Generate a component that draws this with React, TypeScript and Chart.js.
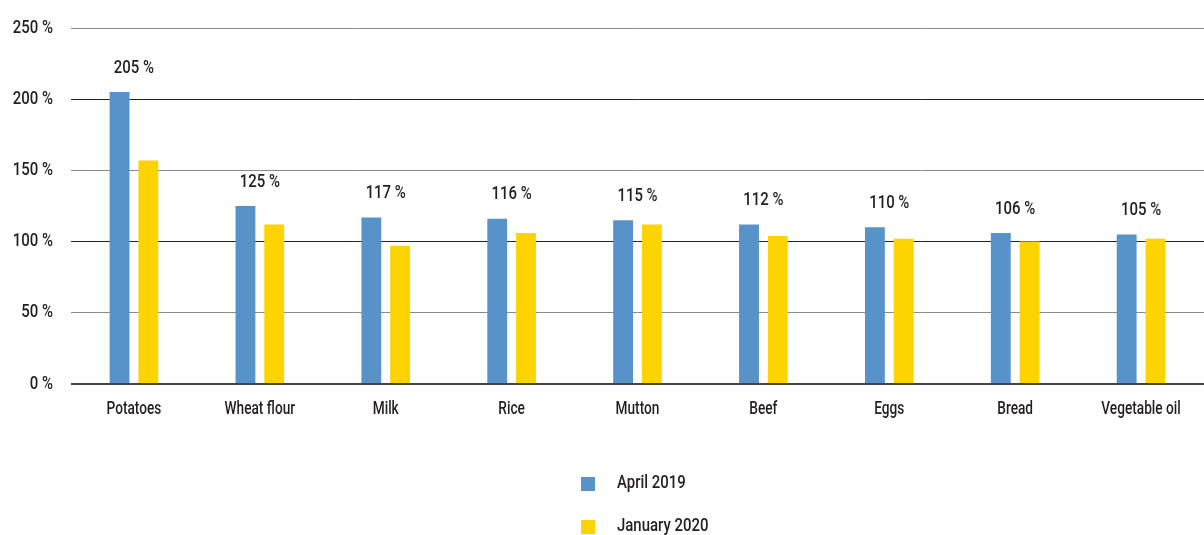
import React, { useEffect, useRef } from "react";
import { Chart, registerables } from "chart.js";

Chart.register(...registerables);

const categories = ["Potatoes", "Wheat flour", "Milk", "Rice", "Mutton", "Beef", "Eggs", "Bread", "Vegetable oil"];
const april2019 = [205, 125, 117, 116, 115, 112, 110, 106, 105];
const january2020 = [157, 112, 97, 106, 112, 104, 102, 100, 102];
const seriesLabels = ["April 2019", "January 2020"];
const yTicks = [0, 50, 100, 150, 200, 250];

const BLUE = "#5793c9";
const YELLOW = "#fed400";
const FONT = "500 18px Roboto, sans-serif";
const SX = 0.83;
const SX_CAT = 0.76;
const TEXT = "#231f20";

function drawText(ctx: any, text: string, x: number, y: number, align: CanvasTextAlign, sx: number = SX) {
  ctx.save();
  ctx.translate(x, y);
  ctx.scale(sx, 1);
  ctx.font = FONT;
  ctx.fillStyle = TEXT;
  ctx.textAlign = align;
  ctx.textBaseline = "middle";
  ctx.fillText(text, 0, 0);
  ctx.restore();
}

const textPlugin = {
  id: "condensedText",
  afterDatasetsDraw(chart: any) {
    const ctx = chart.ctx;
    const xScale = chart.scales.x;
    const yScale = chart.scales.y;
    const area = chart.chartArea;
    yTicks.forEach((v) => {
      drawText(ctx, `${v} %`, area.left - 18, yScale.getPixelForValue(v), "right");
    });
    categories.forEach((c, i) => {
      drawText(ctx, c, xScale.getPixelForValue(i), area.bottom + 25, "center", SX_CAT);
    });
    const meta = chart.getDatasetMeta(0);
    meta.data.forEach((bar: any, i: number) => {
      drawText(ctx, `${april2019[i]} %`, xScale.getPixelForValue(i), bar.y - 24, "center");
    });
    chart.data.datasets.forEach((ds: any, i: number) => {
      const y = 484 + i * 43;
      ctx.fillStyle = ds.backgroundColor;
      ctx.fillRect(581, y - 7, 14, 14);
      drawText(ctx, ds.label, 617, y - 1, "left");
    });
  },
};

export default function App() {
  const ref = useRef<HTMLCanvasElement>(null);
  useEffect(() => {
    document.body.style.margin = "0";
    const chart = new Chart(ref.current!, {
      type: "bar",
      data: {
        labels: categories,
        datasets: [
          { label: seriesLabels[0], data: april2019, backgroundColor: BLUE, categoryPercentage: 0.457, barPercentage: 0.69 },
          { label: seriesLabels[1], data: january2020, backgroundColor: YELLOW, categoryPercentage: 0.457, barPercentage: 0.69 },
        ],
      },
      options: {
        animation: false,
        responsive: false,
        maintainAspectRatio: false,
        layout: { padding: { top: 28, left: 71, right: -9, bottom: 143 } },
        plugins: { legend: { display: false }, tooltip: { enabled: false } },
        scales: {
          x: {
            grid: { display: false },
            border: { display: false },
            ticks: { display: false },
          },
          y: {
            min: 0,
            max: 250,
            afterBuildTicks(axis: any) {
              axis.ticks = yTicks.map((v) => ({ value: v }));
            },
            border: { display: false },
            grid: {
              drawTicks: false,
              color: (c: any) => (c.tick.value === 0 ? "#444" : c.tick.value % 100 === 0 ? "#222" : "#8a8a8a"),
              lineWidth: (c: any) => (c.tick.value === 0 ? 2 : 1),
            },
            ticks: { display: false },
          },
        },
      },
      plugins: [textPlugin],
    });
    return () => chart.destroy();
  }, []);
  return <canvas ref={ref} width={1204} height={535} style={{ display: "block" }} />;
}
